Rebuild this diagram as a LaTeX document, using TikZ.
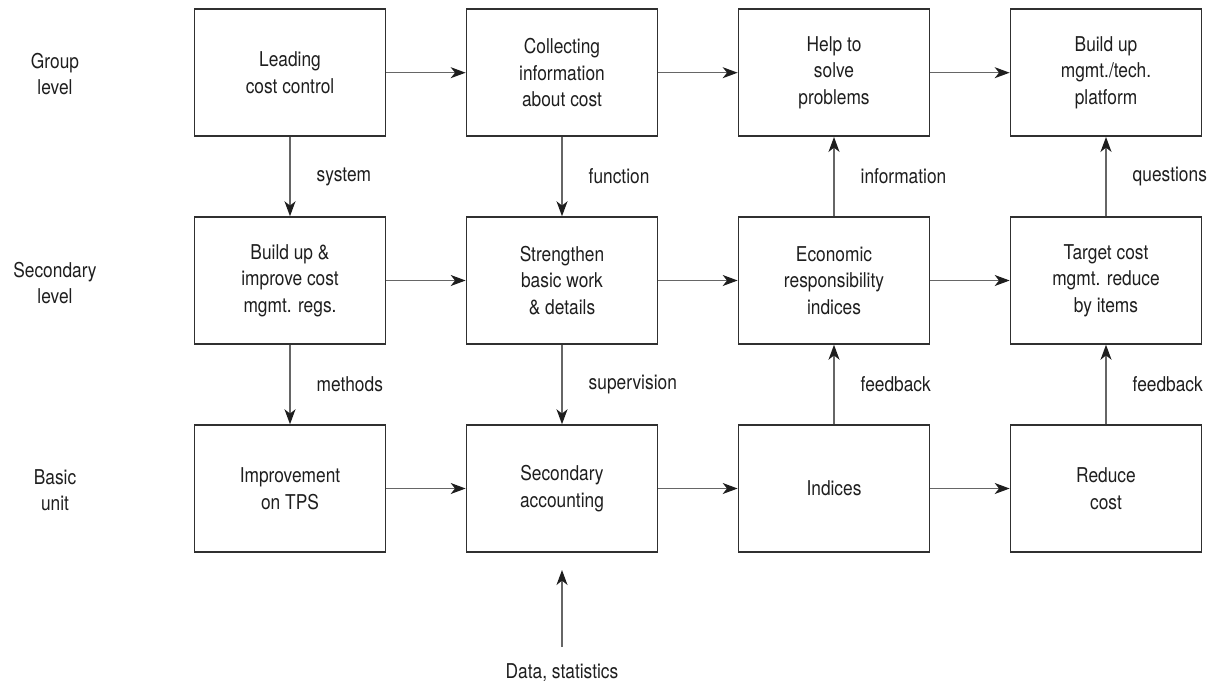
\documentclass[tikz,border=0pt]{standalone}
\usepackage{fontspec}
\setmainfont{TeX Gyre Heros}[FakeStretch=0.85]
\usetikzlibrary{arrows.meta}
\definecolor{ink}{HTML}{1E1E1E}
\definecolor{frame}{HTML}{303030}
\definecolor{wire}{HTML}{666666}
\newcommand{\txtsize}{\fontsize{10.2pt}{13.25pt}\selectfont}
\begin{document}
\begin{tikzpicture}[x=0.5pt,y=-0.5pt,
  every node/.style={text=ink,font=\txtsize},
  stage/.style={draw=frame,line width=0.75pt,minimum width=95.6pt,
    minimum height=63.5pt,inner sep=2pt,align=center},
  level/.style={align=center},
  arr/.style={draw=wire,line width=0.7pt,
    -{Stealth[length=7.5pt,width=5.5pt,inset=2.2pt,color=ink]}},
  tag/.style={anchor=west,inner sep=0pt,xshift=13pt}]
\useasboundingbox (0,0) rectangle (1209,686);

% level captions
\node[level] (Lg) at (55,74)  {Group\\level};
\node[level] (Ls) at (55,283) {Secondary\\level};
\node[level] (Lb) at (55,490) {Basic\\unit};

% group level
\node[stage] (g1) at (290,72.7)  {Leading\\cost control};
\node[stage] (g2) at (562,72.7)  {Collecting\\information\\about cost};
\node[stage] (g3) at (834,72.7)  {Help to\\solve\\problems};
\node[stage] (g4) at (1106,72.7) {Build up\\mgmt./tech.\\platform};

% secondary level
\node[stage] (s1) at (290,280.5)  {Build up \&\\improve cost\\mgmt. regs.};
\node[stage] (s2) at (562,280.5)  {Strengthen\\basic work\\\& details};
\node[stage] (s3) at (834,280.5)  {Economic\\responsibility\\indices};
\node[stage] (s4) at (1106,280.5) {Target cost\\mgmt. reduce\\by items};

% basic unit
\node[stage] (b1) at (290,488.5)  {Improvement\\on TPS};
\node[stage] (b2) at (562,488.5)  {Secondary\\accounting};
\node[stage] (b3) at (834,488.5)  {Indices};
\node[stage] (b4) at (1106,488.5) {Reduce\\cost};

% flows along each level
\draw[arr] (g1.east) -- (g2.west);
\draw[arr] (g2.east) -- (g3.west);
\draw[arr] (g3.east) -- (g4.west);
\draw[arr] (s1.east) -- (s2.west);
\draw[arr] (s2.east) -- (s3.west);
\draw[arr] (s3.east) -- (s4.west);
\draw[arr] (b1.east) -- (b2.west);
\draw[arr] (b2.east) -- (b3.west);
\draw[arr] (b3.east) -- (b4.west);

% flows between levels
\draw[arr] (g1.south) -- (s1.north) node[midway,tag] {system};
\draw[arr] (g2.south) -- (s2.north) node[midway,tag] {function};
\draw[arr] (s3.north) -- (g3.south) node[midway,tag] {information};
\draw[arr] (s4.north) -- (g4.south) node[midway,tag] {questions};
\draw[arr] (s1.south) -- (b1.north) node[midway,tag] {methods};
\draw[arr] (s2.south) -- (b2.north) node[midway,tag] {supervision};
\draw[arr] (b3.north) -- (s3.south) node[midway,tag] {feedback};
\draw[arr] (b4.north) -- (s4.south) node[midway,tag] {feedback};

% data input
\node[inner sep=0pt] (data) at (562,673) {Data, statistics};
\coordinate (datatip) at (562,570);
\draw[arr,shorten <=8.25pt] (data.north) -- (datatip);
\end{tikzpicture}
\end{document}
